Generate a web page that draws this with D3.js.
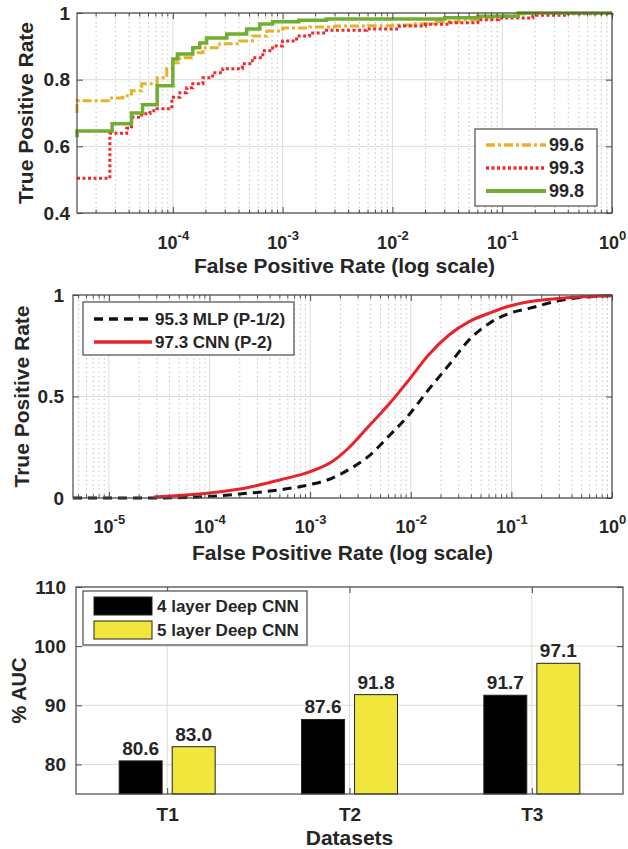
<!DOCTYPE html>
<html>
<head>
<meta charset="utf-8">
<script src="https://cdn.jsdelivr.net/npm/d3@7/dist/d3.min.js"></script>
<style>
body{margin:0;background:#fff;}
text{font-family:"Liberation Sans",Arial,sans-serif;font-weight:bold;fill:#262626;}
.frame{fill:none;stroke:#4a4a4a;stroke-width:1.2;}
.tick line{stroke:#4a4a4a;}
.domain{display:none;}
.grid{stroke:#dcdcdc;stroke-width:1;}
.minor{stroke:#c4c4c4;stroke-width:1;stroke-dasharray:1.5,3;}
</style>
</head>
<body>
<svg id="fig" width="628" height="849"></svg>
<script>
// ---------- data ----------
// panel 1 : step ROC curves (fpr / tpr)
const p1Labels = ["99.6", "99.3", "99.8"]
const p1FprA = [1.34e-5, 1.34e-5, 2.67e-5, 3.5e-5, 4.2e-5, 5.2e-5, 7.2e-5, 8.8e-5, 1e-4, 1.16e-4, 1.52e-4, 1.88e-4, 2.67e-4, 4.06e-4, 5.3e-4, 7.2e-4, 1e-3, 1.76e-3, 3e-3, 6e-3, 1e-2, 1.5e-2, 2.5e-2, 4e-2, 6e-2, 9e-2, 0.13, 0.16, 1]
const p1TprA = [0.70, 0.737, 0.745, 0.752, 0.767, 0.788, 0.806, 0.833, 0.851, 0.866, 0.881, 0.896, 0.908, 0.916, 0.931, 0.946, 0.955, 0.958, 0.961, 0.962, 0.964, 0.968, 0.974, 0.98, 0.986, 0.992, 0.997, 1.0, 1.0]
const p1FprB = [1.34e-5, 2.67e-5, 3.8e-5, 4.2e-5, 5.2e-5, 6.2e-5, 7.2e-5, 9.8e-5, 1.16e-4, 1.34e-4, 1.52e-4, 1.88e-4, 2.3e-4, 2.85e-4, 4.3e-4, 5.3e-4, 6.6e-4, 8.1e-4, 1e-3, 1.34e-3, 1.76e-3, 2.5e-3, 5.8e-3, 1.16e-2, 2e-2, 3.3e-2, 6e-2, 9.3e-2, 0.19, 0.4, 1]
const p1TprB = [0.504, 0.639, 0.654, 0.687, 0.698, 0.707, 0.713, 0.747, 0.761, 0.776, 0.788, 0.806, 0.821, 0.833, 0.848, 0.866, 0.887, 0.901, 0.916, 0.931, 0.94, 0.948, 0.952, 0.961, 0.966, 0.971, 0.98, 0.985, 0.993, 0.998, 1.0]
const p1FprC = [1.34e-5, 1.34e-5, 2.8e-5, 4.2e-5, 5.3e-5, 7.2e-5, 1e-4, 1.1e-4, 1.52e-4, 1.76e-4, 2.03e-4, 3.1e-4, 4.7e-4, 6.2e-4, 8.1e-4, 1.4e-3, 2.5e-3, 3e-2, 6e-2, 0.14, 1]
const p1TprC = [0.627, 0.646, 0.668, 0.70, 0.725, 0.782, 0.862, 0.877, 0.896, 0.91, 0.925, 0.937, 0.952, 0.967, 0.974, 0.978, 0.982, 0.986, 0.99, 1.0, 1.0]
const p1YTicks = [0.4, 0.6, 0.8, 1]
const p1XTicks = [1e-4, 1e-3, 1e-2, 1e-1, 1]

// panel 2 : smooth ROC curves
const p2Labels = ["95.3 MLP (P-1/2)", "97.3 CNN (P-2)"]
const p2FprMlp = [4.4e-6, 2.8e-5, 1e-4, 2e-4, 5.1e-4, 1e-3, 1.66e-3, 2.4e-3, 3.8e-3, 6e-3, 9.6e-3, 1.5e-2, 2.4e-2, 3.8e-2, 6e-2, 0.096, 0.15, 0.32, 1]
const p2TprMlp = [0, 0, 0.008, 0.02, 0.041, 0.066, 0.098, 0.139, 0.205, 0.303, 0.41, 0.533, 0.656, 0.779, 0.86, 0.91, 0.934, 0.975, 0.997]
const p2FprCnn = [2.8e-5, 1e-4, 2e-4, 5.1e-4, 1e-3, 1.66e-3, 2.4e-3, 3.8e-3, 6e-3, 9.6e-3, 1.5e-2, 2.4e-2, 3.8e-2, 6e-2, 0.096, 0.15, 0.32, 1]
const p2TprCnn = [0.005, 0.025, 0.044, 0.09, 0.13, 0.18, 0.245, 0.352, 0.459, 0.582, 0.705, 0.803, 0.869, 0.91, 0.946, 0.967, 0.984, 0.997]
const p2YTicks = [0, 0.5, 1]
const p2XTicks = [1e-5, 1e-4, 1e-3, 1e-2, 1e-1, 1]

// panel 3 : grouped bars
const datasets = ["T1", "T2", "T3"]
const barSeries = ["4 layer Deep CNN", "5 layer Deep CNN"]
const auc4 = [80.6, 87.6, 91.7]
const auc5 = [83.0, 91.8, 97.1]
const p3YTicks = [80, 90, 100, 110]

let svg = d3.select("#fig")

// helpers
function minorsBetween(lo, hi){
    let out = []
    for (let e = Math.floor(Math.log10(lo)); e < Math.ceil(Math.log10(hi)); e++){
        for (let m = 2; m <= 9; m++){
            let v = m * Math.pow(10, e)
            if (v > lo && v < hi) out.push(v)
        }
    }
    return out
}

function powLabels(g, yBase){
    g.selectAll(".tick text").each(function(d){
        let t = d3.select(this).text(null).attr("y", null).attr("dy", null)
            .attr("transform", "translate(0," + yBase + ")")
        t.append("tspan").text("10")
        t.append("tspan").attr("dy", -9).attr("font-size", 13).text(Math.round(Math.log10(d)))
    })
}

function logPanel(cfg){
    let g = svg.append("g")
    let x = d3.scaleLog().domain(cfg.xDomain).range([cfg.left, cfg.right])
    let y = d3.scaleLinear().domain(cfg.yDomain).range([cfg.bottom, cfg.top])
    let minors = minorsBetween(cfg.xDomain[0], cfg.xDomain[1])

    // grid
    g.selectAll(".minor").data(minors).join("line").attr("class", "minor")
        .attr("x1", d => x(d)).attr("x2", d => x(d)).attr("y1", cfg.top).attr("y2", cfg.bottom)
    g.selectAll(".gx").data(cfg.xTicks).join("line").attr("class", "grid")
        .attr("x1", d => x(d)).attr("x2", d => x(d)).attr("y1", cfg.top).attr("y2", cfg.bottom)
    g.selectAll(".gy").data(cfg.yTicks).join("line").attr("class", "grid")
        .attr("x1", cfg.left).attr("x2", cfg.right).attr("y1", d => y(d)).attr("y2", d => y(d))

    // curves
    cfg.series.forEach(s => {
        let pts = s.fpr.map((f, i) => [f, s.tpr[i]])
        let line = d3.line().x(d => x(d[0])).y(d => y(d[1])).curve(s.curve)
        g.append("path").datum(pts).attr("d", line)
            .attr("fill", "none").attr("stroke", s.color).attr("stroke-width", s.width)
            .attr("stroke-dasharray", s.dash)
    })

    // axes (ticks inward, box on)
    let xb = g.append("g").attr("transform", "translate(0," + cfg.bottom + ")")
        .call(d3.axisBottom(x).tickValues(cfg.xTicks).tickSize(-6).tickPadding(8))
    xb.selectAll(".tick text").attr("font-size", 18)
    powLabels(xb, cfg.xLabY - cfg.bottom)
    xb.selectAll(".mt").data(minors).join("line").attr("stroke", "#4a4a4a")
        .attr("x1", d => x(d)).attr("x2", d => x(d)).attr("y1", 0).attr("y2", -3.5)
    let xt = g.append("g").attr("transform", "translate(0," + cfg.top + ")")
        .call(d3.axisTop(x).tickValues(cfg.xTicks).tickSize(-6).tickFormat(""))
    xt.selectAll(".mt").data(minors).join("line").attr("stroke", "#4a4a4a")
        .attr("x1", d => x(d)).attr("x2", d => x(d)).attr("y1", 0).attr("y2", 3.5)
    let yl = g.append("g").attr("transform", "translate(" + cfg.left + ",0)")
        .call(d3.axisLeft(y).tickValues(cfg.yTicks).tickSize(-6).tickPadding(cfg.yPad).tickFormat(d3.format("~g")))
    yl.selectAll(".tick text").attr("font-size", 19)
    g.append("g").attr("transform", "translate(" + cfg.right + ",0)")
        .call(d3.axisRight(y).tickValues(cfg.yTicks).tickSize(-6).tickFormat(""))
    g.append("rect").attr("class", "frame")
        .attr("x", cfg.left).attr("y", cfg.top).attr("width", cfg.right - cfg.left).attr("height", cfg.bottom - cfg.top)

    // titles
    g.append("text").attr("x", (cfg.left + cfg.right) / 2).attr("y", cfg.titleY)
        .attr("text-anchor", "middle").attr("font-size", 21).text("False Positive Rate (log scale)")
    g.append("text").attr("transform", "translate(" + cfg.yTitleX + "," + (cfg.top + cfg.bottom) / 2 + ") rotate(-90)")
        .attr("text-anchor", "middle").attr("font-size", 21).text("True Positive Rate")

    // legend
    let L = cfg.legend
    g.append("rect").attr("x", L.x).attr("y", L.y).attr("width", L.w).attr("height", L.h)
        .attr("fill", "#fff").attr("stroke", "#4a4a4a").attr("stroke-width", 1.2)
    cfg.series.forEach((s, i) => {
        let yy = L.y + L.first + i * L.step
        g.append("line").attr("x1", L.x + 11).attr("x2", L.x + 11 + L.sw).attr("y1", yy).attr("y2", yy)
            .attr("stroke", s.color).attr("stroke-width", s.width + 0.5).attr("stroke-dasharray", s.dash)
        g.append("text").attr("x", L.x + 14 + L.sw).attr("y", yy).attr("dy", "0.35em")
            .attr("font-size", L.fs).text(s.label)
    })
}

// ---------- panel 1 ----------
logPanel({
    left: 77, right: 612, top: 13, bottom: 213,
    xDomain: [1.34e-5, 1], yDomain: [0.4, 1],
    xTicks: p1XTicks, yTicks: p1YTicks, yPad: 7,
    xLabY: 249, titleY: 273, yTitleX: 33,
    series: [
        {label: p1Labels[0], fpr: p1FprA, tpr: p1TprA, color: "#e9b02e", width: 3, dash: "9,3,3,3", curve: d3.curveStepAfter},
        {label: p1Labels[1], fpr: p1FprB, tpr: p1TprB, color: "#ee2a2f", width: 3, dash: "3,2.5", curve: d3.curveStepAfter},
        {label: p1Labels[2], fpr: p1FprC, tpr: p1TprC, color: "#70ad30", width: 3.5, dash: null, curve: d3.curveStepAfter}
    ],
    legend: {x: 475, y: 129, w: 122, h: 77, first: 16, step: 23, sw: 60, fs: 18}
})

// ---------- panel 2 ----------
logPanel({
    left: 73, right: 612, top: 295, bottom: 498,
    xDomain: [4.4e-6, 1], yDomain: [0, 1],
    xTicks: p2XTicks, yTicks: p2YTicks, yPad: 9,
    xLabY: 533, titleY: 560, yTitleX: 29,
    series: [
        {label: p2Labels[0], fpr: p2FprMlp, tpr: p2TprMlp, color: "#111", width: 3, dash: "9,6", curve: d3.curveMonotoneX},
        {label: p2Labels[1], fpr: p2FprCnn, tpr: p2TprCnn, color: "#e8232b", width: 3, dash: null, curve: d3.curveMonotoneX}
    ],
    legend: {x: 83, y: 302, w: 211, h: 53, first: 17, step: 23, sw: 58, fs: 17}
})

// ---------- panel 3 ----------
let b = {left: 76, right: 623, top: 587, bottom: 794}
let g3 = svg.append("g")
let x3 = d3.scaleLinear().domain([0.5, 3.5]).range([b.left, b.right])
let inner = d3.scaleBand().domain(barSeries).range([-48, 48]).paddingInner(0.19)
let y3 = d3.scaleLinear().domain([75, 110]).range([b.bottom, b.top])

g3.selectAll(".gy").data(p3YTicks).join("line").attr("class", "grid")
    .attr("x1", b.left).attr("x2", b.right).attr("y1", d => y3(d)).attr("y2", d => y3(d))
g3.selectAll(".gx").data(datasets).join("line").attr("class", "grid")
    .attr("x1", (d, i) => x3(i + 1)).attr("x2", (d, i) => x3(i + 1)).attr("y1", b.top).attr("y2", b.bottom)

let barData = []
datasets.forEach((d, i) => {
    barData.push({cat: i + 1, s: barSeries[0], v: auc4[i], color: "#000"})
    barData.push({cat: i + 1, s: barSeries[1], v: auc5[i], color: "#f0e63c"})
})
g3.selectAll(".bar").data(barData).join("rect")
    .attr("x", d => x3(d.cat) + inner(d.s)).attr("width", inner.bandwidth())
    .attr("y", d => y3(d.v)).attr("height", d => b.bottom - y3(d.v))
    .attr("fill", d => d.color).attr("stroke", "#222").attr("stroke-width", 1)
g3.selectAll(".val").data(barData).join("text")
    .attr("x", d => x3(d.cat) + inner(d.s) + inner.bandwidth() / 2).attr("y", d => y3(d.v) - 6)
    .attr("text-anchor", "middle").attr("font-size", 19).text(d => d.v.toFixed(1))

let xa = g3.append("g").attr("transform", "translate(0," + b.bottom + ")")
    .call(d3.axisBottom(x3).tickValues([1, 2, 3]).tickSize(-6).tickPadding(14).tickFormat((d, i) => datasets[i]))
xa.selectAll(".tick text").attr("font-size", 19)
g3.append("g").attr("transform", "translate(0," + b.top + ")")
    .call(d3.axisTop(x3).tickValues([1, 2, 3]).tickSize(-6).tickFormat(""))
let ya = g3.append("g").attr("transform", "translate(" + b.left + ",0)")
    .call(d3.axisLeft(y3).tickValues(p3YTicks).tickSize(-6).tickPadding(10))
ya.selectAll(".tick text").attr("font-size", 19)
g3.append("g").attr("transform", "translate(" + b.right + ",0)")
    .call(d3.axisRight(y3).tickValues(p3YTicks).tickSize(-6).tickFormat(""))
g3.append("rect").attr("class", "frame")
    .attr("x", b.left).attr("y", b.top).attr("width", b.right - b.left).attr("height", b.bottom - b.top)

g3.append("text").attr("x", (b.left + b.right) / 2).attr("y", 845)
    .attr("text-anchor", "middle").attr("font-size", 21).text("Datasets")
g3.append("text").attr("transform", "translate(26," + (b.top + b.bottom) / 2 + ") rotate(-90)")
    .attr("text-anchor", "middle").attr("font-size", 20).text("% AUC")

// legend
let lg = g3.append("g")
lg.append("rect").attr("x", 83).attr("y", 591).attr("width", 224).attr("height", 54)
    .attr("fill", "#fff").attr("stroke", "#4a4a4a").attr("stroke-width", 1.2)
barSeries.forEach((s, i) => {
    lg.append("rect").attr("x", 94).attr("y", 597 + i * 24).attr("width", 58).attr("height", 18)
        .attr("fill", i == 0 ? "#000" : "#f0e63c").attr("stroke", "#222")
    lg.append("text").attr("x", 157).attr("y", 606 + i * 24).attr("dy", "0.35em")
        .attr("font-size", 17).text(s)
})
</script>
</body>
</html>
